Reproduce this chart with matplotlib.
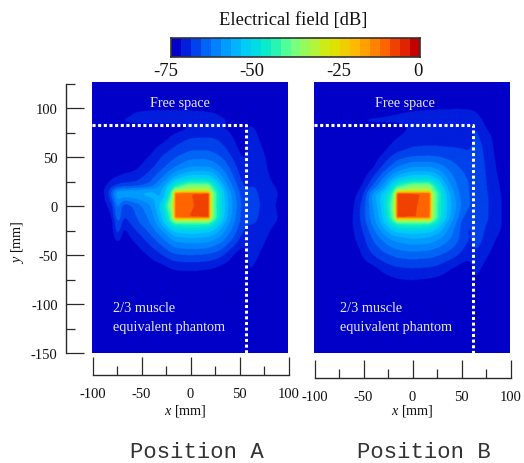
import numpy as np
import matplotlib
matplotlib.use("Agg")
import matplotlib.pyplot as plt
from matplotlib.colors import ListedColormap, BoundaryNorm

plt.rcParams['font.family'] = ['Liberation Serif', 'DejaVu Serif']
plt.rcParams['mathtext.fontset'] = 'custom'
plt.rcParams['mathtext.it'] = 'Liberation Serif:italic'
plt.rcParams['mathtext.rm'] = 'Liberation Serif'
plt.rcParams['axes.unicode_minus'] = False

W, H = 524, 464
band_colors = ["#0000c8", "#001edc", "#0041eb", "#0064f5", "#0082ff", "#009bff", "#00b4ff", "#00cdf5",
               "#00dce1", "#0aebc8", "#28f5b4", "#50ff96", "#78ff7d", "#96fa5a", "#b4f53c", "#cdeb14",
               "#e1e100", "#f0cd00", "#ffb900", "#ffa000", "#ff8200", "#ff6400", "#f04100", "#e12300", "#c30000"]
levels = list(range(-75, 3, 3))
cbar_ticks = [-75, -50, -25, 0]
cbar_tick_px = [166, 252, 339, 418]

xA = [-100, -85, -78, -74, -70, -55, -40, -28, -21, -18, -15, 0, 19, 22, 28, 36, 45, 53, 56.5, 58.5, 66, 75, 87, 100]
yA = [127, 105, 95, 86, 82, 70, 55, 40, 28, 20, 16, 13, 1, -11, -14, -18, -25, -35, -50, -65, -80, -100, -125, -150]
fieldA = [
 [-74]*24,
 [-74]*24,
 [-74,-74,-74,-74,-73.5,-71.5,-71,-71,-71,-71,-71,-71,-71.5,-71.5,-72,-73,-74,-74,-74,-74,-74,-74,-74,-74],
 [-74,-73,-71.5,-71.5,-71.3,-70.8,-70.5,-70.5,-70.5,-70.5,-70.5,-70.5,-70.7,-70.8,-71,-71.2,-73,-74,-74,-71.8,-74,-74,-74,-74],
 [-74,-74,-74,-74,-74,-74,-74,-74,-74,-74,-74,-72.5,-72.5,-72.5,-72.5,-72.5,-73,-74,-74,-71,-72,-74,-74,-74],
 [-74,-74,-74,-74,-74,-74,-74,-73.5,-71.8,-71.3,-70.8,-69,-68.7,-68.8,-69.2,-70.5,-72.2,-74,-74,-71,-71,-73,-74,-74],
 [-74,-74,-74,-74,-74,-74,-72.5,-69.5,-68.5,-68,-67.5,-65.5,-65.5,-66,-66.5,-68,-70.5,-72.5,-74,-70.5,-70.5,-71.8,-74,-74],
 [-74,-74,-74,-74,-73.5,-72.8,-69.8,-66.5,-65,-64,-63,-60,-60,-60.5,-62,-64.5,-68,-70.8,-72,-70,-70,-71,-74,-74],
 [-74,-73,-71.8,-71.5,-71,-70,-66.5,-62.5,-59,-57,-55,-51,-51,-52,-56,-61,-66,-69.5,-71,-69.5,-69.5,-70.5,-73,-74],
 [-74,-72,-69.5,-68.5,-67.5,-67,-65,-58,-52,-48,-44,-35,-36,-42,-50,-58,-64,-68,-70,-69,-69,-70,-72,-74],
 [-74,-71.5,-62,-58,-58,-57,-56,-56,-49,-42,-32,-30,-30,-38,-47,-56,-63,-67.5,-69.5,-68.5,-68.5,-70,-71.5,-74],
 [-74,-71.8,-61,-56,-56,-56,-55,-60,-46,-38,-11,-9.1,-8,-34,-45,-55,-62,-67,-69,-68.5,-68.2,-70,-71.3,-74],
 [-74,-72.3,-70,-56,-69,-65,-60,-51,-38,-34,-10.5,-9.3,-8,-34,-46,-55,-61,-66.5,-68,-68,-67.5,-70,-72,-74],
 [-74,-74,-72,-57,-70,-66,-62,-54,-44,-36,-11,-8.9,-8,-34,-45,-55,-62,-67,-68.5,-68.5,-68.3,-70,-71.3,-74],
 [-74,-74,-74,-59,-71,-66.5,-62.5,-54.5,-45,-38,-30,-30,-30,-38,-48,-56,-62.5,-67,-68.5,-68.5,-68.3,-70,-71.5,-74],
 [-74,-74,-74,-60,-72,-67,-63,-56,-50,-47,-44,-43,-44,-47,-52,-58,-63,-67.5,-69,-69,-69,-70.3,-72,-74],
 [-74,-74,-74,-62,-74,-69,-65,-60,-56,-54,-53,-52,-53,-54,-56,-60,-64.5,-68.5,-70,-69.5,-69.5,-70.5,-73,-74],
 [-74,-74,-74,-70,-74,-71.5,-67.5,-64,-61.5,-60,-59.5,-58.5,-59,-60,-61,-63.5,-67,-70.5,-71.5,-70,-70,-71.5,-74,-74],
 [-74,-74,-74,-74,-74,-74,-71.5,-69,-67.5,-67,-66.5,-66,-66.5,-67,-67.5,-69.5,-72.5,-74,-74,-70.8,-71,-73,-74,-74],
 [-74,-74,-74,-74,-74,-74,-74,-74,-72.5,-72.3,-72.2,-71.9,-72.3,-72.5,-73,-74,-74,-74,-74,-71.5,-72.5,-74,-74,-74],
 [-74]*24,
 [-74]*24,
 [-74]*24,
 [-74]*24,
]

xB = [-100, -85, -70, -58, -50, -40, -30, -22, -18, -15, 0, 18, 21, 28, 36, 45, 52, 61, 63, 70, 78, 90, 100]
yB = [127, 105, 100, 95, 86, 82, 70, 55, 40, 28, 20, 16, 13, 1, -11, -14, -18, -25, -35, -50, -65, -80, -100, -125, -150]
fieldB = [
 [-74]*23,
 [-74]*23,
 [-74,-74,-74,-74,-74,-74,-74,-73,-73,-73,-72.5,-72.2,-72.2,-72,-72,-72,-72,-72.5,-73,-74,-74,-74,-74],
 [-74,-74,-74,-74,-73.5,-73,-72.7,-72.3,-72.2,-72,-71.5,-71,-71,-71,-70.8,-70.6,-70.6,-70.5,-70.5,-73,-74,-74,-74],
 [-74,-74,-72.5,-71.5,-71.2,-71,-71,-71,-71,-71,-70.5,-70,-70,-70,-69.8,-69.7,-69.7,-69,-68.5,-71,-74,-74,-74],
 [-74,-74,-74,-74,-74,-74,-74,-74,-74,-74,-71.5,-71,-71,-71,-71,-71,-71,-71,-68,-70,-73,-74,-74],
 [-74,-74,-74,-74,-74,-74,-74,-73.5,-72.5,-72,-70.5,-70.5,-70.5,-70.5,-70.5,-70.5,-70.5,-70.5,-68,-69,-71,-74,-74],
 [-74,-74,-74,-74,-74,-74,-72.5,-70.5,-69.5,-69,-68,-67.5,-67.5,-67.8,-68,-68.2,-68.5,-69,-67.5,-68,-70.5,-73.5,-74],
 [-74,-74,-74,-74,-74,-72.8,-68.5,-65.5,-64,-63,-60,-60,-60.5,-61.5,-63.5,-65.5,-66.5,-67,-67,-67.5,-70,-73,-74],
 [-74,-74,-74,-74,-73,-68.5,-63,-58.5,-56,-54,-51,-51,-52,-55,-60,-63.5,-65.5,-66.5,-66.5,-67.5,-69.5,-72.5,-74],
 [-74,-74,-74,-73.5,-71.5,-66,-59,-52,-47,-43,-35,-35,-41,-50,-58,-62.5,-65,-66.5,-66.5,-67,-69.5,-72,-74],
 [-74,-74,-74,-73,-71,-62,-58,-49,-42,-32,-30,-30,-38,-47,-56,-62,-65,-66.5,-66.5,-67,-69.5,-72,-74],
 [-74,-74,-74,-72.5,-70,-58,-52,-46,-38,-8,-8.3,-9.8,-34,-45,-55,-61,-65,-66.5,-66.5,-67,-69,-71.8,-74],
 [-74,-74,-74,-72,-67.5,-60,-53,-42,-34,-8,-8.5,-10.2,-34,-46,-54,-60,-64,-66.5,-66.5,-67,-69,-71.5,-74],
 [-74,-74,-74,-71.5,-67,-61,-54,-44,-36,-8,-8.6,-10.5,-34,-46,-55,-61,-66,-68,-66.5,-67,-69,-71.5,-74],
 [-74,-74,-74,-71.5,-67.5,-61.5,-55,-46,-38,-30,-30,-30,-38,-48,-56,-62,-67,-69,-66.5,-67,-69,-71.5,-74],
 [-74,-74,-74,-71.5,-68,-62,-56,-50,-47,-44,-43,-44,-47,-52,-58,-63,-67.5,-70,-66.5,-67.5,-69.5,-71.5,-74],
 [-74,-74,-74,-71.8,-69,-64,-59,-55,-54,-53,-52,-53,-54,-56,-60,-64,-67.5,-70.5,-67,-68,-70,-71.8,-74],
 [-74,-74,-74,-72.2,-70,-66,-63,-60.5,-60,-59.5,-58,-58.5,-59.5,-60.5,-62.5,-65,-67.5,-70,-67.5,-68.5,-70.5,-73,-74],
 [-74,-74,-74,-74,-71.5,-69,-67,-66,-65.5,-65,-64.5,-65,-65,-66,-67,-68.5,-70,-71.5,-69,-70,-72,-74,-74],
 [-74,-74,-74,-74,-74,-73.5,-71.5,-70.5,-70,-70,-69.5,-69.8,-70,-70.5,-71.8,-73,-74,-74,-70.5,-72,-74,-74,-74],
 [-74,-74,-74,-74,-74,-74,-74,-74,-73.5,-73.2,-73,-73.5,-73.5,-74,-74,-74,-74,-74,-71.5,-74,-74,-74,-74],
 [-74]*23,
 [-74]*23,
 [-74]*23,
]

panel_names = ["Position A", "Position B"]
x_ticks = [-100, -50, 0, 50, 100]
x_minor = [-75, -25, 25, 75]
y_ticks = [-150, -100, -50, 0, 50, 100]
y_minor = [-125, -75, -25, 25, 75, 125]
boundary_y = 83.5
boundary_x = [57.5, 62]

fig = plt.figure(figsize=(W / 100, H / 100), dpi=100)
cmap = ListedColormap(band_colors)
norm = BoundaryNorm(levels, cmap.N)
INK = "#2a2a2a"


def px_axes(x0, y0, x1, y1):
    return fig.add_axes([x0 / W, 1 - y1 / H, (x1 - x0) / W, (y1 - y0) / H])


def px_text(x, y, s, **kw):
    kw.setdefault("ha", "center")
    kw.setdefault("va", "center")
    fig.text(x / W, 1 - y / H, s, **kw)


def blur(a, sigma, step):
    r = int(3 * sigma / step)
    k = np.exp(-0.5 * (np.arange(-r, r + 1) * step / sigma) ** 2)
    k /= k.sum()
    p = np.pad(a, r, mode="edge")
    p = np.apply_along_axis(lambda v: np.convolve(v, k, mode="same"), 0, p)
    p = np.apply_along_axis(lambda v: np.convolve(v, k, mode="same"), 1, p)
    return p[r:-r, r:-r]


def smooth_field(xs, ys, z, step=0.5):
    """Rounds the corners of the read grid, as the contour solver of the original does."""
    fx = np.arange(-100, 100 + step, step)
    fy = np.arange(127, -150 - step, -step)
    z = np.array(z, dtype=float)
    rows = np.array([np.interp(fx, xs, r) for r in z])
    f = np.array([np.interp(fy, np.array(ys)[::-1], c[::-1]) for c in rows.T]).T
    fine = blur(f, 0.7, step)
    soft = blur(np.minimum(f, -42), 3.0, step)
    w = np.clip((fine + 48) / 6, 0, 1)
    return fy, fx, w * fine + (1 - w) * soft


# colour bar
cax = px_axes(171, 39, 420, 58)
cax.pcolormesh(levels, [0, 1], np.array(levels[:-1], dtype=float).reshape(1, -1) + 1.5, cmap=cmap, norm=norm)
cax.set_xlim(-75, 0)
cax.set_xticks([])
cax.set_yticks([])
for s in cax.spines.values():
    s.set_linewidth(1.2)
    s.set_color("#333333")
px_text(293, 20, "Electrical field [dB]", fontsize=13.3, color="#111111")
for v, p in zip(cbar_ticks, cbar_tick_px):
    px_text(p, 72, str(v), fontsize=13.5, color="#111111")

panels = [(92, 288, xA, yA, fieldA, 376, 180, 113, 185, 197),
          (314, 510, xB, yB, fieldB, 379, 405, 340, 412, 424)]
for i, (x0, x1, xs, ys, z, axis_py, fs_x, ph_x, lab_x, name_x) in enumerate(panels):
    ax = px_axes(x0, 83, x1, 354)
    fy, fx, fine = smooth_field(xs, ys, z)
    ax.imshow(fine, extent=[-100, 100, -150, 127], origin="upper", aspect="auto", cmap=cmap, norm=norm,
              interpolation="bilinear", interpolation_stage="rgba")
    ax.set_xlim(-100, 100)
    ax.set_ylim(-150, 127)
    ax.axis("off")
    ax.plot([-100, boundary_x[i], boundary_x[i]], [boundary_y, boundary_y, -150],
            color="white", lw=2.2, ls=(0, (1, 0.85)), solid_capstyle="butt", clip_on=True)
    px_text(fs_x, 103, "Free space", fontsize=10.2, color="#e8e8f6")
    px_text(ph_x, 309, "2/3 muscle", fontsize=10.3, color="#e8e8f6", ha="left")
    px_text(ph_x, 328, "equivalent phantom", fontsize=10.3, color="#e8e8f6", ha="left")

    xa = px_axes(x0 + 0.5, axis_py - 18, x1 + 0.5, axis_py)
    xa.set_xlim(-100, 100)
    xa.set_ylim(0, 1)
    xa.patch.set_alpha(0)
    for side in ("top", "left", "right"):
        xa.spines[side].set_visible(False)
    xa.spines["bottom"].set_color(INK)
    xa.spines["bottom"].set_linewidth(1.0)
    xa.set_yticks([])
    xa.set_xticks(x_ticks)
    xa.set_xticks(x_minor, minor=True)
    xa.tick_params(axis="x", which="major", direction="in", length=13, width=0.9, color=INK,
                   labelsize=10.5, pad=8.5, labelcolor="#111111")
    xa.tick_params(axis="x", which="minor", direction="in", length=6.5, width=0.9, color=INK)
    px_text(lab_x, 411, r"$\mathit{x}$ [mm]", fontsize=10.3, color="#111111")
    px_text(name_x, 453, panel_names[i], fontsize=16, color="#333333", family="Liberation Mono")

ya = px_axes(66, 85, 84, 354)
ya.set_ylim(-150, 125)
ya.patch.set_alpha(0)
for side in ("top", "right", "bottom"):
    ya.spines[side].set_visible(False)
ya.spines["left"].set_color(INK)
ya.spines["left"].set_linewidth(1.0)
ya.set_xticks([])
ya.set_yticks(y_ticks)
ya.set_yticks(y_minor, minor=True)
ya.tick_params(axis="y", which="major", direction="in", length=13, width=0.9, color=INK,
               labelsize=10.5, pad=6, labelcolor="#111111")
ya.tick_params(axis="y", which="minor", direction="in", length=6.5, width=0.9, color=INK)
px_text(17, 242, r"$\mathit{y}$ [mm]", fontsize=10.3, color="#111111", rotation=90)

fig.savefig("out.png", dpi=100)
